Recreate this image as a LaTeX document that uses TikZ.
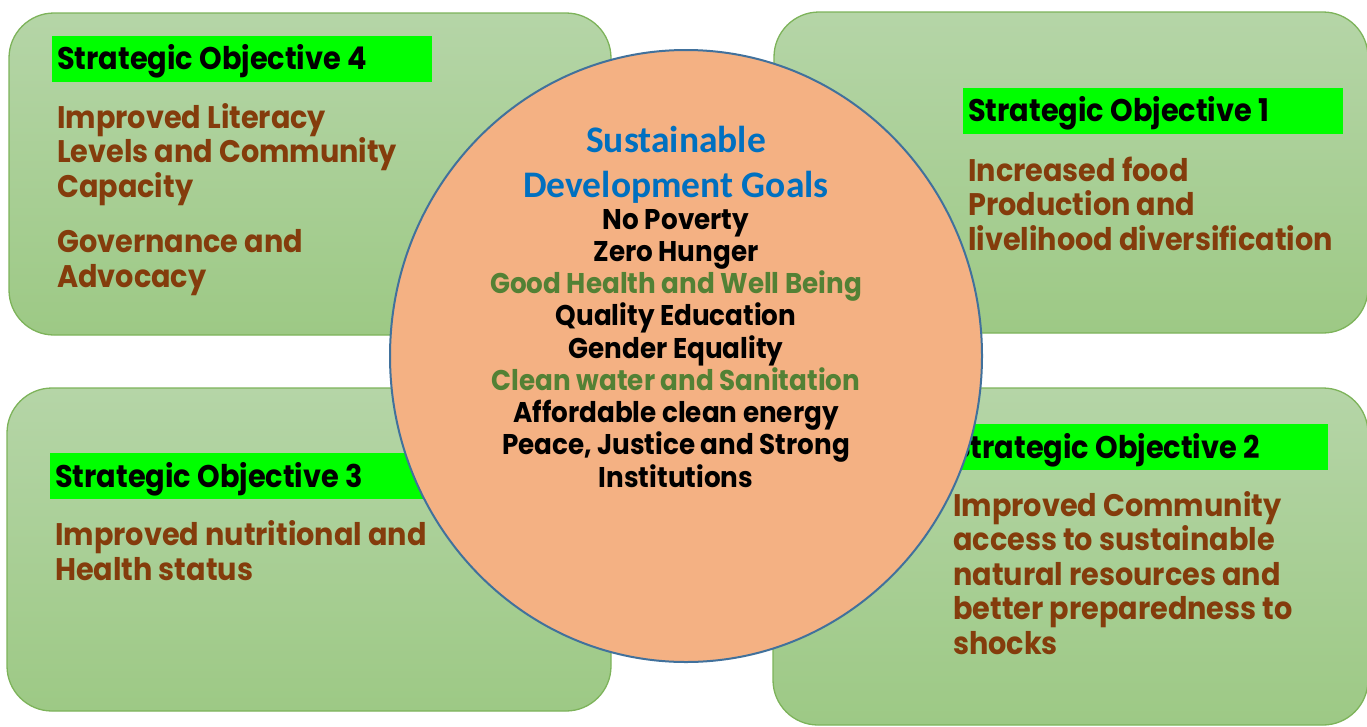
\documentclass[tikz,border=0pt]{standalone}
\usepackage{fontspec}
\newfontfamily\objfont[FakeStretch=0.92]{Poppins}
\newfontfamily\titlefont{Carlito}
\definecolor{boxtop}{HTML}{B5D5A7}
\definecolor{boxbot}{HTML}{9DC985}
\definecolor{boxline}{HTML}{7DB35A}
\definecolor{headgreen}{HTML}{00FF00}
\definecolor{objbrown}{HTML}{843C0C}
\definecolor{sdgfill}{HTML}{F4B183}
\definecolor{sdgline}{HTML}{41719C}
\definecolor{sdgblue}{HTML}{0070C0}
\definecolor{sdggreen}{HTML}{538135}

\tikzset{
  objbox/.style={draw=boxline, line width=1.3, top color=boxtop, bottom color=boxbot, rounded corners=45},
  headbar/.style={fill=headgreen},
  head/.style={inner sep=0, anchor=base west, font=\objfont\bfseries\fontsize{31.3}{35}\selectfont},
  objtext/.style={inner sep=0, anchor=base west, align=left, text=objbrown, font=\objfont\bfseries\fontsize{31.2}{34.5}\selectfont},
  sdgtitle/.style={inner sep=0, anchor=base, align=center, text=sdgblue, font=\titlefont\bfseries\fontsize{37.5}{45}\selectfont},
  sdglist/.style={inner sep=0, anchor=base, align=center, font=\objfont\bfseries\fontsize{28.5}{32.25}\selectfont}
}

\begin{document}
\begin{tikzpicture}[x=1pt,y=-1pt]
\useasboundingbox (0,0) rectangle (1367,726);
\clip (0,0) rectangle (1367,726);
% objective boxes
\draw[objbox] (9,13) rectangle (611,335);
\draw[objbox] (774,12) rectangle (1368,333);
\draw[objbox] (7,388) rectangle (611,711);
\draw[objbox] (773,388) rectangle (1368,725);
% green headings
\fill[headbar] (52,36) rectangle (432,82);
\fill[headbar] (963,88) rectangle (1343,134);
\fill[headbar] (50,453) rectangle (470,499);
\fill[headbar] (948,424) rectangle (1328,470);
\node[head] (so4) at (57,69) {Strategic Objective 4};
\node[head] (so1) at (968,121) {Strategic Objective 1};
\node[head] (so3) at (55,487) {Strategic Objective 3};
\node[head] (so2) at (953,458) {Strategic Objective 2};
% objective texts (anchored on their last line)
\node[objtext] (lit) at (57,197) {Improved Literacy\\Levels and Community\\Capacity};
\node[objtext] (gov) at (57,287) {Governance and\\Advocacy};
\node[objtext] (food) at (968,250) {Increased food\\Production and\\livelihood diversification};
\node[objtext] (nutr) at (55,580) {Improved nutritional and\\Health status};
\node[objtext] (res) at (953,654) {Improved Community\\access to sustainable\\natural resources and\\better preparedness to\\shocks};
% centre
\draw[fill=sdgfill, draw=sdgline, line width=2] (686,356) ellipse [x radius=296, y radius=306];
\node[sdgtitle] (sdg) at (676,197) {Sustainable\\Development Goals};
\node[sdglist] (goals) at (676,487) {No Poverty\\Zero Hunger\\\textcolor{sdggreen}{Good Health and Well Being}\\Quality Education\\Gender Equality\\\textcolor{sdggreen}{Clean water and Sanitation}\\Affordable clean energy\\Peace, Justice and Strong\\Institutions};
\end{tikzpicture}
\end{document}
